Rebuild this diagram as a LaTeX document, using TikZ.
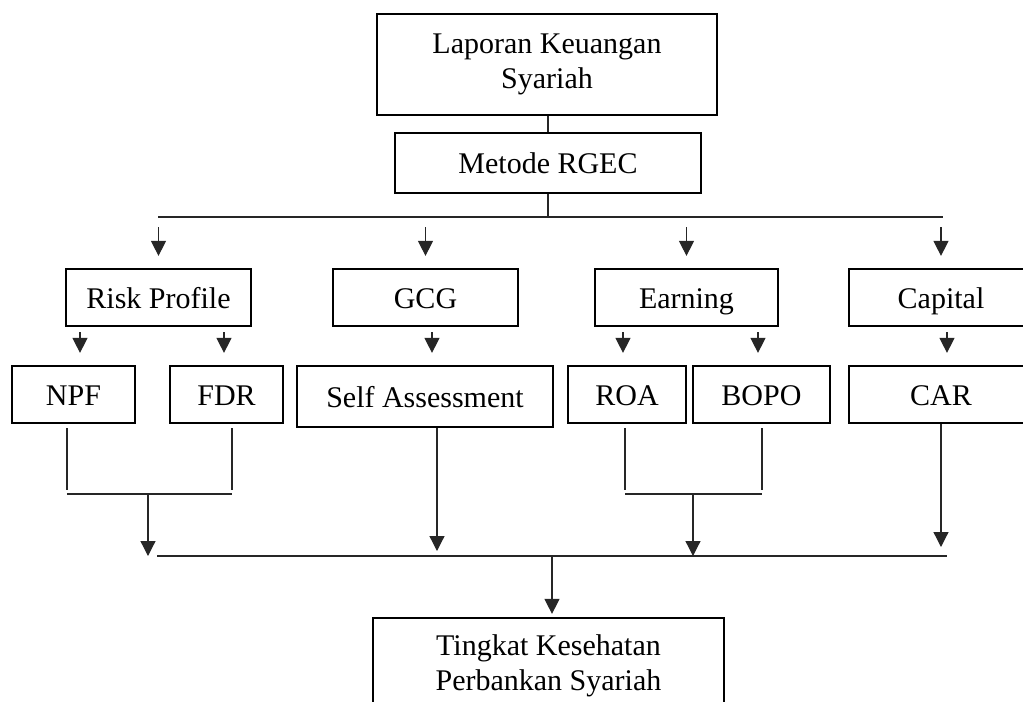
\documentclass[tikz,border=0pt]{standalone}
\usepackage{fontspec}
\setmainfont{Liberation Serif}
\usetikzlibrary{arrows.meta, positioning}

\begin{document}
\begin{tikzpicture}[
            x=0.4pt, y=-0.4pt,
            box/.style={draw=black, line width=0.9pt, inner sep=0pt, align=center, font=\fontsize{12}{14}\selectfont},
            oneline/.style={box, text height=9.4pt, text depth=1pt},
            sz/.style 2 args={minimum width=#1*0.4pt, minimum height=#2*0.4pt},
            link/.style={black!85, line width=0.5pt},
            >={Triangle[length=6pt, width=6pt]}
        ]
        \clip (0,0) rectangle (1023,702);

        % Source and method
        \node[box, sz={340}{101}] (lap) at (547,64.5) {Laporan Keuangan\\Syariah};
        \node[oneline, sz={306}{60}] (rgec) at (548,163) {Metode RGEC};

        % RGEC aspects
        \foreach \name/\x/\w/\lbl in {risk/158.5/185/Risk Profile, gcg/425.5/185/GCG, earn/686.5/183/Earning, cap/941/184/Capital}
            \node[oneline, sz={\w}{57}] (\name) at (\x,297.5) {\lbl};

        % Ratios
        \foreach \name/\x/\w/\lbl in {npf/73.5/123/NPF, fdr/226.5/113/FDR, roa/627/118/ROA, bopo/761.5/137/BOPO, car/941/184/CAR}
            \node[oneline, sz={\w}{57}] (\name) at (\x,394.5) {\lbl};
        \node[oneline, sz={256}{61}] (self) at (425,396.5) {Self Assessment};

        % Result
        \node[box, sz={351}{96}] (tks) at (548.5,666) {Tingkat Kesehatan\\Perbankan Syariah};

        % Helper points
        \coordinate (busL) at (158,217);
        \coordinate (busR) at (943,217);
        \coordinate (jRF) at (148,494);
        \coordinate (jEB) at (693,494);
        \coordinate (baseL) at (157,556);
        \coordinate (baseR) at (947,556);
        \coordinate (baseM) at (552,556);

        % Top connections
        \draw[link] (rgec.north |- lap.south) -- (rgec.north);
        \draw[link] (rgec.south) -- (rgec.south |- busL);
        \draw[link] (busL) -- (busR);
        \foreach \name in {risk, gcg, earn, cap}
            \draw[link, ->, shorten <=4pt, shorten >=4.8pt] (\name.north |- busL) -- (\name.north);

        % Aspect -> ratio
        \foreach \a/\b/\dx in {risk/npf/2.6pt, risk/fdr/-1pt, gcg/self/2.8pt, earn/roa/-1.6pt, earn/bopo/-1.4pt, cap/car/2.4pt}
            \draw[link, ->, shorten <=2pt, shorten >=4.8pt] ([xshift=\dx]\b.north |- \a.south) -- ([xshift=\dx]\b.north);

        % Ratio brackets
        \foreach \b/\dx/\j in {npf/-2.6pt/jRF, fdr/2.2pt/jRF, roa/-0.8pt/jEB, bopo/0.2pt/jEB}
            \draw[link, shorten <=1.6pt, shorten >=1.6pt] ([xshift=\dx]\b.south) -- ([xshift=\dx]\b.south |- \j);
        \draw[link] ([xshift=-2.6pt]npf.south |- jRF) -- ([xshift=2.2pt]fdr.south |- jRF);
        \draw[link] ([xshift=-0.8pt]roa.south |- jEB) -- ([xshift=0.2pt]bopo.south |- jEB);

        % Into the bottom bus
        \draw[link, ->] (jRF) -- (jRF |- baseL);
        \draw[link, ->] (jEB) -- (jEB |- baseL);
        \draw[link, ->, shorten >=2pt] ([xshift=4.8pt]self.south) -- ([xshift=4.8pt]self.south |- baseL);
        \draw[link, ->, shorten >=3.6pt] (car.south) -- (car.south |- baseL);
        \draw[link] (baseL) -- (baseR);

        % Result
        \draw[link, ->, shorten >=1.2pt] (baseM) -- (baseM |- tks.north);
\end{tikzpicture}
\end{document}
